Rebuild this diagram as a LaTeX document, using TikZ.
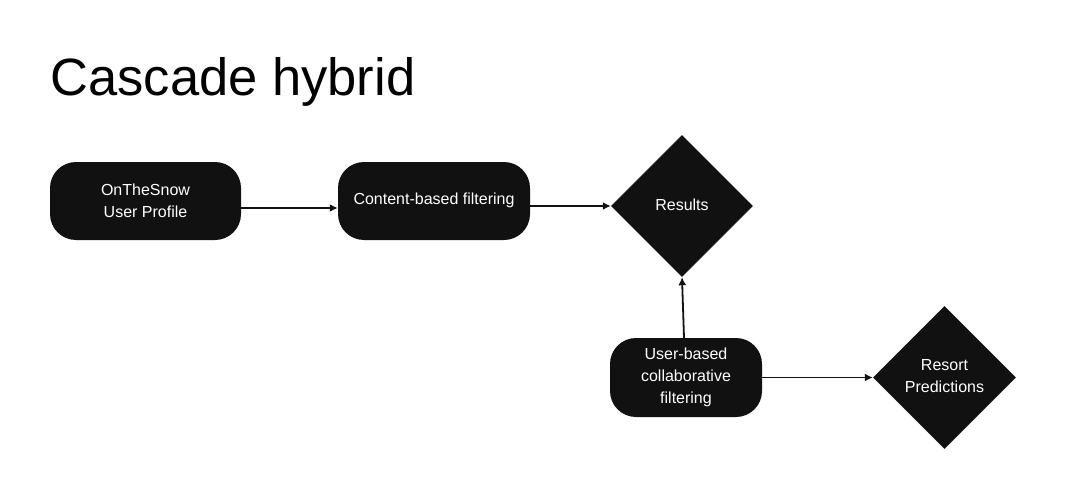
\documentclass[tikz,border=0pt]{standalone}
\usepackage{fontspec}
\setmainfont{Liberation Sans}
\usetikzlibrary{shapes.geometric,arrows.meta}
\definecolor{boxfill}{HTML}{111111}
\begin{document}
\begin{tikzpicture}[x=1pt,y=-1pt,
  rbox/.style={draw=none,fill=boxfill,rounded corners=26pt,text=white,align=center,font=\fontsize{16}{22}\selectfont,inner sep=0pt},
  dia/.style={diamond,draw=none,fill=boxfill,text=white,align=center,font=\fontsize{16}{22}\selectfont,inner sep=0pt,minimum width=142pt,minimum height=142pt},
  conn/.style={draw=boxfill,line width=1.8pt,-{Latex[length=8pt,width=8pt]}}]
\useasboundingbox (0,0) rectangle (1067,500);
\node[anchor=base west,font=\fontsize{52.5}{60}\selectfont] (title) at (47,96) {Cascade hybrid};
\node[rbox,minimum width=191pt,minimum height=78pt] (p) at (145.5,201) {OnTheSnow\\User Profile};
\node[rbox,minimum width=192pt,minimum height=78pt] (c) at (434,201) {\raisebox{4pt}{Content-based filtering}};
\node[dia] (r) at (682,206) {\raisebox{2pt}{Results}};
\node[rbox,minimum width=152pt,minimum height=79pt] (u) at (686,377.5) {User-based\\collaborative\\filtering};
\node[dia,minimum width=143pt,minimum height=143pt] (rp) at (944.5,377.5) {\raisebox{8pt}{\begin{tabular}{@{}c@{}}Resort\\Predictions\end{tabular}}};
\coordinate (a1) at ([yshift=-7pt]p.east);
\coordinate (a2) at ([yshift=-7pt]c.west);
\draw[conn] (a1) -- (a2);
\draw[conn] (c.east |- r.west) -- (r.west);
\draw[conn] (u.north -| r.south) ++(2,0) coordinate (ut) -- (r.south);
\draw[conn] (u.east) -- (rp.west);
\end{tikzpicture}
\end{document}
